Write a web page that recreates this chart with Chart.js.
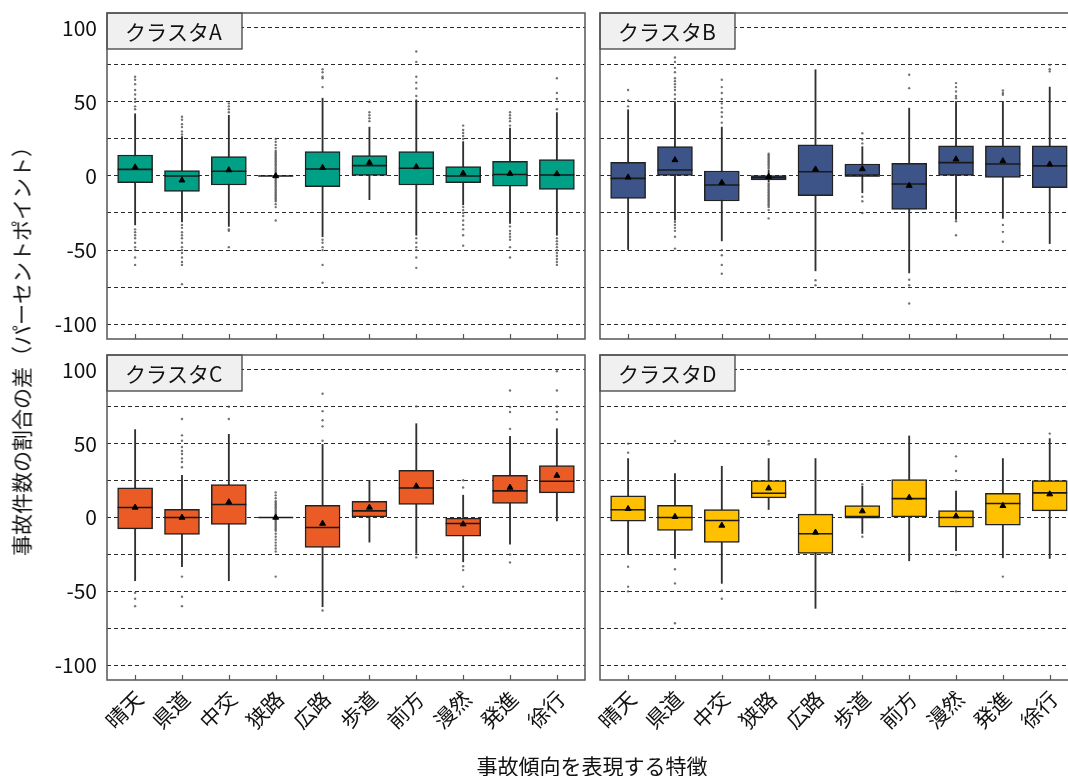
<!DOCTYPE html>
<html>
<head>
<meta charset="utf-8">
<script src="https://cdn.jsdelivr.net/npm/chart.js@4/dist/chart.umd.min.js"></script>
<style>
  html, body { margin: 0; padding: 0; background: #fff; overflow: hidden; }
  #wrap { position: relative; width: 1068px; height: 776px; overflow: hidden; }
  #wrap canvas { position: absolute; }
  .ytitle, .xtitle {
    position: absolute; white-space: nowrap; color: #111;
    font-family: "Noto Sans CJK JP", sans-serif; font-size: 21px; line-height: 1;
  }
  .ytitle { left: 21px; top: 346px; transform: translate(-50%, -50%) rotate(-90deg); }
  .xtitle { left: 592px; top: 765px; transform: translate(-50%, -50%); }
</style>
</head>
<body>
<div id="wrap">
  <canvas id="cA" width="595" height="346" style="left:0;top:0;width:595px;height:346px"></canvas>
  <canvas id="cB" width="478" height="346" style="left:590px;top:0;width:478px;height:346px"></canvas>
  <canvas id="cC" width="595" height="434" style="left:0;top:342px;width:595px;height:434px"></canvas>
  <canvas id="cD" width="478" height="434" style="left:590px;top:342px;width:478px;height:434px"></canvas>
  <div class="ytitle">事故件数の割合の差（パーセントポイント）</div>
  <div class="xtitle">事故傾向を表現する特徴</div>
</div>
<script>
// Features on the x axis (shared by all four clusters)
const categories = ['晴天', '県道', '中交', '狭路', '広路', '歩道', '前方', '漫然', '発進', '徐行'];
const yTicks = [-100, -75, -50, -25, 0, 25, 50, 75, 100];

// ---- クラスタA ----
const aLow    = [-33, -31, -34, 0, -41, -16, -40, -19.5, -32, -40];
const aQ1     = [-4.5, -10.4, -6.1, 0, -7.2, 0, -6.1, -4.5, -6.8, -9];
const aMedian = [4.5, 0, 3.2, 0, 4.7, 7, 5.2, 0, 1, 0.7];
const aQ3     = [14.2, 3.6, 13.1, 0, 16.5, 13.8, 16.5, 6.3, 9.9, 11];
const aHigh   = [42, 26.6, 41, 0, 52.5, 33, 51.4, 23.2, 32.3, 42.8];
const aMean   = [5.9, -2.9, 4, 0, 5.6, 9, 6.1, 1.8, 1.6, 1.4];
const aOutliers = [
  [45, 47, 50, 52, 55, 58, 62, 65, 67, -36, -38, -40, -42, -45, -48, -50, -55, -60],
  [28, 30, 33, 35, 38, 40, -33, -35, -38, -40, -42, -45, -48, -50, -52, -55, -58, -60, -73],
  [43, 45, 47, 49, -36, -37, -48],
  [-30, -21, -19, -17, -16, -15, -14, -13, -12, -11, -10, -9, -8, -7, -6, -5, -4, -3, -2, -1,
   1, 2, 3, 4, 5, 6, 7, 8, 9, 10, 11, 12, 13, 14, 15, 16, 17, 19, 21, 23, 25],
  [60, 66, 67, 70, 72, -43, -45, -48, -50, -60, -72],
  [37, 39, 41, 43, 50],
  [54, 59, 63, 67, 77, 84, -42, -45, -48, -50, -55, -62],
  [25, 27, 29, 31, 34, -21, -23, -25, -27, -30, -33, -36, -40, -47],
  [34, 37, 39, 41, 43, -34, -37, -39, -41, -43, -48, -55],
  [45, 52, 56, 66, -42, -44, -46, -48, -50, -52, -54, -56, -58, -60]
];

// ---- クラスタB ----
const bLow    = [-49.6, -29.8, -43.8, -4, -64, -11.3, -65.4, -29.3, -28.6, -45.6];
const bQ1     = [-15.1, 0, -16.9, -2.7, -13.3, 0, -22.6, 0, -0.9, -7.9];
const bMedian = [-1.6, 4, -6.1, -1.1, 2.9, 0, -5.4, 9, 8.1, 6.8];
const bQ3     = [9.2, 19.8, 3.4, 0.2, 21, 8.1, 8.6, 20.3, 20.3, 20.3];
const bHigh   = [44.7, 50.3, 33, 4, 71.7, 19.8, 45.8, 50.3, 50.3, 60];
const bMean   = [-0.9, 10.8, -4.5, -0.5, 4.5, 4.7, -6.5, 11.3, 10.1, 7.9];
const bOutliers = [
  [47, 51, 58],
  [52, 55, 58, 60, 62, 64, 66, 70, 73, 77, 80, -31, -33, -35, -37, -41, -49],
  [36, 40, 43, 46, 49, 52, 56, 60, 65, -50, -53.5, -60, -66],
  [5, 6, 7, 8, 9, 10, 11, 12, 13, 14, 15, -5, -6, -7, -8, -9, -10, -11, -12, -13, -14, -15,
   -16, -17, -18, -19, -20, -21, -23, -28.6],
  [-70.4, -73.7],
  [22, 24.6, 28.9, -14, -17, -25],
  [59.3, 68.3, -70, -73.7, -86],
  [52.5, 54, 57, 60, 62.7, -30.5, -40],
  [54.8, 56, 57.7, -33, -37.7, -44.4],
  [70.6, 72, 75, -50]
];

// ---- クラスタC ----
const cLow    = [-42.8, -33.3, -42.8, 0, -60.4, -16.7, -24.3, -30, -18, -2.3];
const cQ1     = [-7.7, -11.5, -4.7, 0, -20.3, 0, 8.8, -12.6, 9.5, 16.7];
const cMedian = [6.8, 0, 8.8, 0, -6.8, 4.5, 20, -4.1, 18, 24.5];
const cQ3     = [20, 5.6, 22.3, 0, 8.3, 11, 32, 0, 28.6, 35.1];
const cHigh   = [59.5, 28.6, 56.3, 0, 49.5, 25.2, 63.5, 15.1, 55, 60.1];
const cMean   = [6.8, 0, 10.4, 0, -4.1, 6.8, 21.2, -4.5, 20.3, 28.4];
const cOutliers = [
  [-51, -55, -60],
  [34, 37.6, 40, 43, 45, 47.7, 52, 55.6, 66.7, -40, -53.6, -60],
  [66.7, 75],
  [-23, -21, -19, -17, -15, -13, -11, -9, -8, -7, -6, -5, -4, -3, -2, -1,
   1, 2, 3, 4, 5, 6, 7, 8, 9, 10, 11, 13, 15, 17, -40],
  [52, 61.7, 65.8, 72, 83.8, -63],
  [],
  [75.2, -27],
  [20.3, 25.2, -33, -35.6, -46.8],
  [60, 71.4, 74.8, 86, -25, -30.4],
  [66.4, 71.4, 75.2, 86, 99]
];

// ---- クラスタD ----
const dLow    = [-25, -27.7, -44.6, 5.4, -61.5, -10.8, -29.3, -22.5, -27.3, -27.7];
const dQ1     = [-2.5, -8.8, -16.9, 13.3, -24.3, 0, 0, -6.5, -5.2, 4.5];
const dMedian = [5.2, 0, -2, 16.4, -11, 0, 12.8, 0, 9.5, 16.7];
const dQ3     = [14.6, 8.3, 5.4, 25, 2.3, 8.1, 25.7, 4.7, 16.4, 25];
const dHigh   = [39.9, 29.7, 34.7, 39.9, 39.9, 21.2, 55.2, 17.8, 39.9, 53.4];
const dMean   = [5.9, 0.5, -5.4, 19.8, -10.1, 4.3, 13.5, 0.9, 7.9, 15.8];
const dOutliers = [
  [43.9, 50, -33.3, -46.8, -50],
  [51.8, -35, -44.6, -71.6],
  [-49.5, -55],
  [49.5, 51.8],
  [],
  [22.5, -13],
  [],
  [25.2, 31.5, 41.4, -25.4, -50],
  [-40],
  [56.8]
];

const FONT = '"Noto Sans CJK JP", "Noto Sans CJK SC", sans-serif';
Chart.defaults.font.family = FONT;
Chart.defaults.color = '#111';

// Panel decorations: label box in the corner, inward tick marks and the frame
const panelDecor = {
  id: 'panelDecor',
  afterDraw(chart, args, opts) {
    const { ctx, chartArea: { left, top, right, bottom } } = chart;
    const xs = chart.scales.x;
    ctx.save();
    // label box
    ctx.fillStyle = '#f0f0f0';
    ctx.fillRect(left, top, 135, 36);
    ctx.strokeStyle = '#333';
    ctx.lineWidth = 1.2;
    ctx.strokeRect(left, top, 135, 36);
    ctx.fillStyle = '#111';
    ctx.font = '21px ' + FONT;
    ctx.textBaseline = 'middle';
    ctx.textAlign = 'left';
    ctx.fillText(opts.label, left + 18, top + 19);
    // tick marks pointing into the plot
    ctx.strokeStyle = '#555';
    ctx.lineWidth = 1.2;
    categories.forEach((_, i) => {
      const px = Math.round(xs.getPixelForValue(i)) + 0.5;
      ctx.beginPath();
      ctx.moveTo(px, bottom);
      ctx.lineTo(px, bottom - 5);
      ctx.stroke();
    });
    // frame (the right-hand panels run off the edge, so no right side there)
    ctx.strokeStyle = '#555';
    ctx.lineWidth = 1.5;
    ctx.beginPath();
    ctx.moveTo(opts.closed ? right : right + 2, top);
    ctx.lineTo(left, top);
    ctx.lineTo(left, bottom);
    ctx.lineTo(opts.closed ? right : right + 2, bottom);
    if (opts.closed) ctx.closePath();
    ctx.stroke();
    ctx.restore();
  }
};

// keep the plot area exactly where the layout padding puts it
function noEdgePadding(s) {
  s.paddingTop = 0; s.paddingBottom = 0; s.paddingLeft = 0; s.paddingRight = 0;
}

function buildPanel(canvasId, label, color, low, q1, median, q3, high, mean, outliers, opt) {
  const boxData = categories.map((_, i) => ({ x: i, y: [q1[i], q3[i]] }));
  const whiskerData = categories.map((_, i) => ({ x: i, y: [low[i], high[i]] }));
  const medianData = categories.map((_, i) => ({ x: i, y: median[i] }));
  const meanData = categories.map((_, i) => ({ x: i, y: mean[i] }));
  const outlierData = [];
  outliers.forEach((list, i) => list.forEach(v => outlierData.push({ x: i, y: v })));

  return new Chart(document.getElementById(canvasId), {
    type: 'bar',
    data: {
      datasets: [
        { type: 'scatter', label: 'mean', data: meanData, order: 0,
          pointStyle: 'triangle', pointRadius: 3.4, backgroundColor: '#000',
          borderColor: '#000', borderWidth: 1 },
        { type: 'scatter', label: 'median', data: medianData, order: 1,
          pointStyle: 'line', pointRadius: 17.5, borderColor: '#1a1a1a', borderWidth: 1.6 },
        { type: 'bar', label: 'box', data: boxData, order: 2, grouped: false,
          barThickness: 35, backgroundColor: color, borderColor: '#222',
          borderWidth: 1.5, borderSkipped: false },
        { type: 'bar', label: 'whisker', data: whiskerData, order: 3, grouped: false,
          barThickness: 1.2, backgroundColor: '#303030', borderWidth: 0 },
        { type: 'scatter', label: 'outlier', data: outlierData, order: 4,
          pointStyle: 'circle', pointRadius: 1.2, backgroundColor: 'rgba(80,80,80,0.8)',
          borderWidth: 0 }
      ]
    },
    options: {
      responsive: false,
      animation: false,
      events: [],
      layout: { autoPadding: false, padding: { top: 13, right: opt.padRight, left: 0, bottom: 0 } },
      plugins: {
        legend: { display: false },
        tooltip: { enabled: false },
        panelDecor: { label, closed: opt.closed }
      },
      scales: {
        x: {
          type: 'linear', min: -0.6, max: opt.xMax, offset: false,
          grid: { display: false, offset: false, drawTicks: false },
          border: { display: false },
          afterBuildTicks: s => { s.ticks = categories.map((_, i) => ({ value: i })); },
          afterFit: s => { s.height = opt.xHeight; noEdgePadding(s); },
          ticks: {
            display: opt.showX, autoSkip: false, minRotation: 45, maxRotation: 45,
            padding: 6, labelOffset: 4, font: { size: 21, family: FONT }, color: '#111',
            callback: v => categories[v] ?? ''
          }
        },
        y: {
          type: 'linear', min: -110, max: 110,
          grid: { color: '#2b2b2b', lineWidth: 1.1, drawTicks: false },
          border: { display: false, dash: [4, 3] },
          afterBuildTicks: s => { s.ticks = yTicks.map(v => ({ value: v })); },
          afterFit: s => { s.width = opt.yWidth; noEdgePadding(s); },
          ticks: {
            display: opt.showY, padding: 10, font: { size: 21, family: FONT }, color: '#111',
            callback: v => (v % 50 === 0 ? String(v) : '')
          }
        }
      }
    },
    plugins: [panelDecor]
  });
}

// left panels: full 10.2-unit range in 478 px; right panels are cut by the page edge at 468 px
buildPanel('cA', 'クラスタA', '#00A087', aLow, aQ1, aMedian, aQ3, aHigh, aMean, aOutliers,
  { showX: false, showY: true, xHeight: 7, yWidth: 107, padRight: 10, xMax: 9.6, closed: true });
buildPanel('cB', 'クラスタB', '#3C5488', bLow, bQ1, bMedian, bQ3, bHigh, bMean, bOutliers,
  { showX: false, showY: false, xHeight: 7, yWidth: 10, padRight: 0, xMax: 9.39, closed: false });
buildPanel('cC', 'クラスタC', '#EB5B25', cLow, cQ1, cMedian, cQ3, cHigh, cMean, cOutliers,
  { showX: true, showY: true, xHeight: 96, yWidth: 107, padRight: 10, xMax: 9.6, closed: true });
buildPanel('cD', 'クラスタD', '#FFC000', dLow, dQ1, dMedian, dQ3, dHigh, dMean, dOutliers,
  { showX: true, showY: false, xHeight: 96, yWidth: 10, padRight: 0, xMax: 9.39, closed: false });
</script>
</body>
</html>
